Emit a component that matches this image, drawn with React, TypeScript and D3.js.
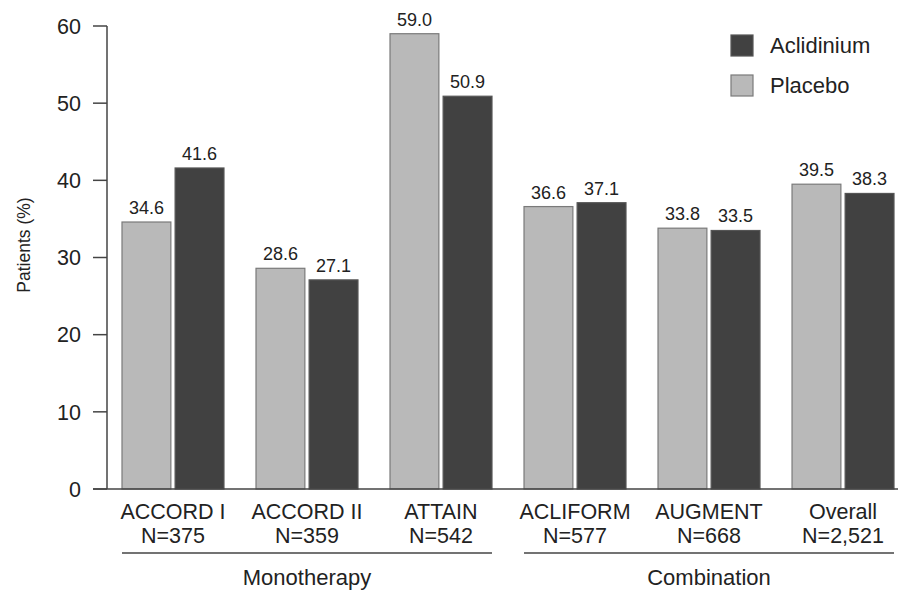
import React from "react";
import * as d3 from "d3";

const studies = ["ACCORD I", "ACCORD II", "ATTAIN", "ACLIFORM", "AUGMENT", "Overall"];
const nLabels = ["N=375", "N=359", "N=542", "N=577", "N=668", "N=2,521"];
const placebo = [34.6, 28.6, 59.0, 36.6, 33.8, 39.5];
const aclidinium = [41.6, 27.1, 50.9, 37.1, 33.5, 38.3];
const seriesNames = ["Placebo", "Aclidinium"];
const yTicks = [0, 10, 20, 30, 40, 50, 60];
const groups = [
  { name: "Monotherapy", from: "ACCORD I", to: "ATTAIN" },
  { name: "Combination", from: "ACLIFORM", to: "Overall" },
];

const W = 899;
const H = 595;
const FONT = "'Liberation Sans', Arial, Helvetica, sans-serif";
const fill: Record<string, string> = { Placebo: "#b9b9b9", Aclidinium: "#414141" };
const stroke: Record<string, string> = { Placebo: "#7a7a7a", Aclidinium: "#555555" };

export default function App() {
  const y = d3.scaleLinear().domain([0, 60]).range([489, 26]);
  const x = d3.scaleBand<string>().domain(studies).range([122, 894]).paddingInner(0.239).paddingOuter(0);
  const xi = d3.scaleBand<string>().domain(seriesNames).range([0, x.bandwidth()]).paddingInner(0.08);
  const axisX = 107;
  const values: Record<string, number[]> = { Placebo: placebo, Aclidinium: aclidinium };

  return (
    <svg width={W} height={H} style={{ position: "absolute", left: 0, top: 0, background: "#fff" }} fontFamily={FONT}>
      {/* y axis */}
      <line x1={axisX} x2={axisX} y1={y(60)} y2={y(0)} stroke="#444" strokeWidth={1.5} />
      {yTicks.map((t) => (
        <g key={t}>
          <line x1={93} x2={axisX} y1={y(t)} y2={y(t)} stroke="#444" strokeWidth={1.5} />
          <text x={81} y={y(t)} dy="0.36em" textAnchor="end" fontSize={21.5} fill="#222">
            {t}
          </text>
        </g>
      ))}
      <text
        transform={`translate(29.5,245) rotate(-90)`}
        textAnchor="middle"
        fontSize={17.5}
        fill="#222"
      >
        Patients (%)
      </text>

      {/* bars */}
      {studies.map((s, i) => (
        <g key={s} transform={`translate(${x(s)},0)`}>
          {seriesNames.map((name) => {
            const v = values[name][i];
            const bx = xi(name)!;
            return (
              <g key={name}>
                <rect
                  x={bx}
                  y={y(v)}
                  width={xi.bandwidth()}
                  height={y(0) - y(v)}
                  fill={fill[name]}
                  stroke={stroke[name]}
                  strokeWidth={1.2}
                />
                <text x={bx + xi.bandwidth() / 2} y={y(v) - 8} textAnchor="middle" fontSize={18} fill="#222">
                  {v.toFixed(1)}
                </text>
              </g>
            );
          })}
        </g>
      ))}

      {/* baseline */}
      <line x1={93} x2={898} y1={y(0)} y2={y(0)} stroke="#444" strokeWidth={1.5} />

      {/* x labels */}
      {studies.map((s, i) => (
        <g key={s}>
          <text x={x(s)! + x.bandwidth() / 2} y={519} textAnchor="middle" fontSize={21.5} fill="#222">
            {s}
          </text>
          <text x={x(s)! + x.bandwidth() / 2} y={543} textAnchor="middle" fontSize={21.5} fill="#222">
            {nLabels[i]}
          </text>
        </g>
      ))}

      {/* group brackets */}
      {groups.map((g) => {
        const x1 = x(g.from)!;
        const x2 = x(g.to)! + x.bandwidth();
        return (
          <g key={g.name}>
            <line x1={x1} x2={x2} y1={553} y2={553} stroke="#444" strokeWidth={1.5} />
            <text x={(x1 + x2) / 2} y={585} textAnchor="middle" fontSize={22} fill="#222">
              {g.name}
            </text>
          </g>
        );
      })}

      {/* legend */}
      {["Aclidinium", "Placebo"].map((name, i) => (
        <g key={name} transform={`translate(731,${35 + i * 40})`}>
          <rect x={0} y={0} width={22} height={21} fill={fill[name]} stroke={stroke[name]} strokeWidth={1.2} />
          <text x={39} y={18} fontSize={22} fill="#222">
            {name}
          </text>
        </g>
      ))}
    </svg>
  );
}
